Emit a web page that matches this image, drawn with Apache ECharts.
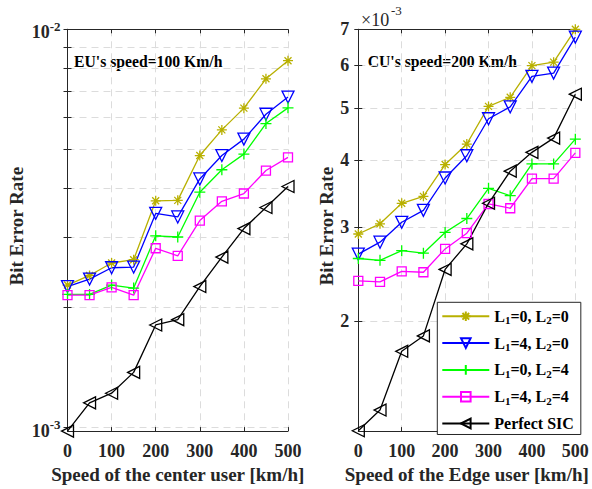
<!DOCTYPE html>
<html>
<head>
<meta charset="utf-8">
<script src="https://cdn.jsdelivr.net/npm/echarts@6/dist/echarts.min.js"></script>
<style>
html,body{margin:0;padding:0;background:#fff;}
#chart{width:592px;height:489px;}
</style>
</head>
<body>
<div id="chart"></div>
<script>
// ---------- data ----------
const speeds = [0, 50, 100, 150, 200, 250, 300, 350, 400, 450, 500];
const seriesNames = ['L1=0, L2=0', 'L1=4, L2=0', 'L1=0, L2=4', 'L1=4, L2=4', 'Perfect SIC'];

// Left panel: BER vs speed of the center user (EU speed = 100 km/h), values in units of 1e-3
const centerL00 = [2.28, 2.41, 2.59, 2.64, 3.71, 3.72, 4.82, 5.59, 6.34, 7.51, 8.34];
const centerL40 = [2.26, 2.36, 2.52, 2.53, 3.45, 3.38, 4.21, 4.82, 5.30, 6.12, 6.76];
const centerL04 = [2.16, 2.16, 2.28, 2.24, 3.03, 3.01, 3.90, 4.44, 4.86, 5.80, 6.35];
const centerL44 = [2.15, 2.15, 2.25, 2.15, 2.82, 2.70, 3.31, 3.70, 3.87, 4.42, 4.77];
const centerSIC = [0.98, 1.154, 1.22, 1.376, 1.81, 1.866, 2.26, 2.68, 3.16, 3.57, 4.03];

// Right panel: BER vs speed of the edge user (CU speed = 200 km/h), values in units of 1e-3
const edgeL00 = [2.91, 3.04, 3.32, 3.42, 3.92, 4.28, 5.03, 5.23, 5.99, 6.08, 7.00];
const edgeL40 = [2.67, 2.81, 3.06, 3.22, 3.70, 4.07, 4.77, 5.02, 5.72, 5.80, 6.77];
const edgeL04 = [2.62, 2.60, 2.71, 2.68, 2.93, 3.11, 3.54, 3.43, 3.93, 3.93, 4.37];
const edgeL44 = [2.38, 2.37, 2.48, 2.47, 2.73, 2.92, 3.31, 3.25, 3.69, 3.69, 4.12];
const edgeSIC = [1.252, 1.368, 1.76, 1.88, 2.50, 2.79, 3.32, 3.81, 4.13, 4.39, 5.30];

const unit = 1e-3;
// tick values
const xTicks = [0, 100, 200, 300, 400, 500];
const leftYLabelTicks = [1e-3, 1e-2];
const leftYTicks = [1e-3, 2e-3, 3e-3, 4e-3, 5e-3, 6e-3, 7e-3, 8e-3, 9e-3, 1e-2];
const rightYTicks = [2e-3, 3e-3, 4e-3, 5e-3, 6e-3, 7e-3];

// ---------- styles ----------
const FONT = '"Liberation Serif", "Times New Roman", serif';
const AX = '#262626';
const colors = ['#b8b000', '#0000ff', '#00ff00', '#ff00ff', '#000000'];
const starPath = 'path://M0,-10 L0,10 M-10,0 L10,0 M-7,-7 L7,7 M-7,7 L7,-7';
const plusPath = 'path://M0,-10 L0,10 M-10,0 L10,0';
const symbols = [
  {symbol: starPath, size: 10, rotate: 0},
  {symbol: 'triangle', size: 12, rotate: 180},
  {symbol: plusPath, size: 11, rotate: 0},
  {symbol: 'rect', size: 9, rotate: 0},
  {symbol: 'triangle', size: 12, rotate: 90}
];

const grids = [
  {left: 67.5, top: 29.3, width: 220.5, height: 404},
  {left: 358.3, top: 29.3, width: 220.4, height: 404}
];

function xAxisDef(gridIndex, name, top) {
  return {
    type: 'value', gridIndex: gridIndex, min: 0, max: 500, interval: 100,
    position: top ? 'top' : 'bottom',
    name: top ? '' : name, nameLocation: 'middle', nameGap: 33,
    nameTextStyle: {fontFamily: FONT, fontWeight: 'bold', fontSize: 19, color: AX},
    axisLine: {show: true, onZero: false, lineStyle: {color: AX, width: 1}},
    axisTick: {show: true, inside: true, length: 4, lineStyle: {color: AX}},
    axisLabel: {show: !top, margin: 11, fontFamily: FONT, fontWeight: 'bold', fontSize: 18, color: AX},
    splitLine: {show: !top, lineStyle: {color: '#dcdcdc', type: [7, 5], width: 1}}
  };
}

const supRich = {
  b: {fontFamily: FONT, fontWeight: 'bold', fontSize: 18, color: AX, padding: [6, 0, 0, 0]},
  s: {fontFamily: FONT, fontWeight: 'bold', fontSize: 13, color: AX, padding: [0, 0, 6, 0]}
};

const yNameStyle = {fontFamily: FONT, fontWeight: 'bold', fontSize: 19, color: AX, padding: [0, 0, 0, 8]};

function leftYAxis(right) {
  return {
    type: 'log', logBase: 10, gridIndex: 0, min: 0.98e-3, max: 1e-2,
    position: right ? 'right' : 'left',
    name: right ? '' : 'Bit Error Rate', nameLocation: 'middle', nameGap: 42, nameRotate: 90,
    nameTextStyle: yNameStyle,
    axisLine: {show: true, lineStyle: {color: AX, width: 1}},
    axisTick: {show: true, inside: true, length: 4, customValues: leftYTicks, lineStyle: {color: AX}},
    axisLabel: {show: !right, margin: 7, customValues: leftYLabelTicks,
      fontFamily: FONT, fontWeight: 'bold', fontSize: 18, color: AX,
      formatter: function (v) { return '{b|10}{s|' + Math.round(Math.log10(v)) + '}'; },
      rich: supRich},
    splitLine: {show: !right, lineStyle: {color: '#dcdcdc', type: [7, 5], width: 1}}
  };
}

function rightYAxis(right) {
  return {
    type: 'log', logBase: 10, gridIndex: 1, min: 1.25e-3, max: 7e-3,
    position: right ? 'right' : 'left',
    name: right ? '' : 'Bit Error Rate', nameLocation: 'middle', nameGap: 21, nameRotate: 90,
    nameTextStyle: yNameStyle,
    axisLine: {show: true, lineStyle: {color: AX, width: 1}},
    axisTick: {show: true, inside: true, length: 4, customValues: rightYTicks, lineStyle: {color: AX}},
    axisLabel: {show: !right, margin: 9, customValues: rightYTicks,
      formatter: function (v) { return String(Math.round(v / unit)); },
      fontFamily: FONT, fontWeight: 'bold', fontSize: 18, color: AX},
    splitLine: {show: !right, lineStyle: {color: '#dcdcdc', type: [7, 5], width: 1}}
  };
}

function makeSeries(values, idx, xAxisIndex, yAxisIndex) {
  const s = symbols[idx];
  return {
    type: 'line', name: seriesNames[idx], xAxisIndex: xAxisIndex, yAxisIndex: yAxisIndex,
    data: speeds.map(function (x, i) { return [x, values[i] * unit]; }),
    symbol: s.symbol, symbolSize: s.size, symbolRotate: s.rotate, showAllSymbol: true,
    clip: false,
    lineStyle: {color: colors[idx], width: 1.3},
    itemStyle: {color: 'rgba(255,255,255,0)', borderColor: colors[idx], borderWidth: 1.3},
    emphasis: {disabled: true},
    animation: false
  };
}

const leftSets = [centerL00, centerL40, centerL04, centerL44, centerSIC];
const rightSets = [edgeL00, edgeL40, edgeL04, edgeL44, edgeSIC];
const series = [];
leftSets.forEach(function (v, i) { series.push(makeSeries(v, i, 0, 0)); });
rightSets.forEach(function (v, i) { series.push(makeSeries(v, i, 1, 1)); });

const option = {
  backgroundColor: '#ffffff',
  animation: false,
  grid: grids,
  xAxis: [
    xAxisDef(0, 'Speed of the center user [km/h]', false),
    xAxisDef(1, 'Speed of the Edge user [km/h]', false),
    xAxisDef(0, '', true),
    xAxisDef(1, '', true)
  ],
  yAxis: [leftYAxis(false), rightYAxis(false), leftYAxis(true), rightYAxis(true)],
  legend: {
    orient: 'vertical', left: 437.3, top: 302.3,
    data: seriesNames,
    itemWidth: 47, itemHeight: 12, itemGap: 9.3,
    padding: [6, 7, 3, 4],
    borderColor: AX, borderWidth: 1, backgroundColor: '#ffffff',
    formatter: function (name) {
      if (name.indexOf('L') !== 0) return '{n|' + name + '}';
      return name.replace(/L(\d)/g, function (m, d) { return '{n|L}{sub|' + d + '}'; })
                 .replace(/(=\d, |=\d$)/g, function (m) { return '{n|' + m + '}'; });
    },
    textStyle: {
      fontFamily: FONT, fontWeight: 'bold', fontSize: 16, color: '#000',
      rich: {
        n: {fontFamily: FONT, fontWeight: 'bold', fontSize: 16, color: '#000'},
        sub: {fontFamily: FONT, fontWeight: 'bold', fontSize: 11, color: '#000', padding: [8, 0, 0, 0]}
      }
    },
    selectedMode: false
  },
  graphic: [
    {type: 'text', left: 74, top: 53, style: {text: "EU's speed=100 Km/h", font: 'bold 15.7px ' + FONT, fill: '#000'}},
    {type: 'text', left: 367.7, top: 53, style: {text: "CU's speed=200 Km/h", font: 'bold 15.7px ' + FONT, fill: '#000'}},
    {type: 'text', left: 361, top: 11, style: {text: '\u00d710', font: '18px ' + FONT, fill: AX}},
    {type: 'text', left: 391, top: 4, style: {text: '-3', font: '13px ' + FONT, fill: AX}}
  ],
  series: series
};

const chart = echarts.init(document.getElementById('chart'), null, {renderer: 'svg'});
chart.setOption(option);
</script>
</body>
</html>
